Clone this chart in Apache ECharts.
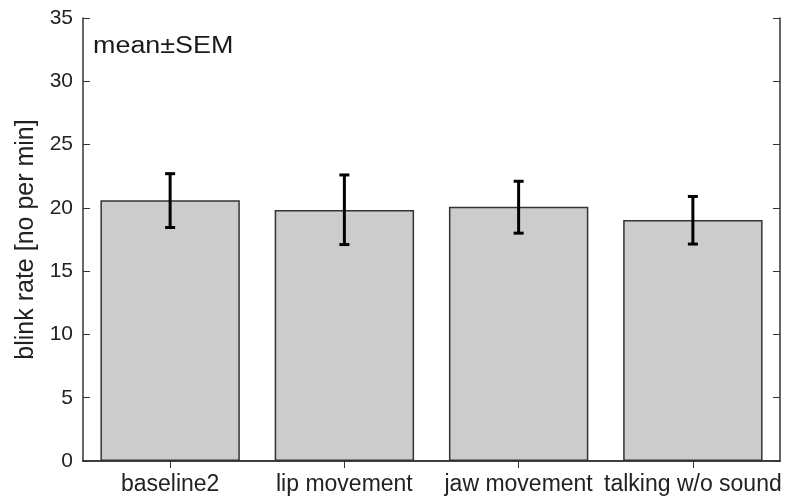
<!DOCTYPE html>
<html><head><meta charset="utf-8">
<script src="https://cdn.jsdelivr.net/npm/echarts@6/dist/echarts.min.js"></script>
<style>html,body{margin:0;padding:0;background:#fff}#c{width:786px;height:497px}</style>
</head><body><div id="c"></div>
<script>
const categories = ['baseline2', 'lip movement', 'jaw movement', 'talking w/o sound'];
const means = [20.6, 19.83, 20.09, 19.04];
const errLow = [18.45, 17.1, 18.0, 17.14];
const errHigh = [22.7, 22.6, 22.1, 20.9];
const yTicks = [0, 5, 10, 15, 20, 25, 30, 35];

const chart = echarts.init(document.getElementById('c'));
const font = 'Liberation Sans, Arial, sans-serif';
const axisCol = '#333';
chart.setOption({
  animation: false,
  backgroundColor: '#fff',
  grid: { left: 83, right: 6, top: 18, bottom: 36 },
  graphic: [{ type: 'text', x: 93, y: 46.5, scaleX: 1.17, originX: 0,
    style: { text: 'mean±SEM', fontSize: 23, fontFamily: font, fill: '#1a1a1a', verticalAlign: 'middle', align: 'left' } }],
  xAxis: [{
    type: 'category', data: categories, position: 'bottom',
    axisLine: { lineStyle: { color: axisCol, width: 1.5 } },
    axisTick: { show: true, inside: true, alignWithLabel: true, length: 7, lineStyle: { color: axisCol } },
    axisLabel: { fontSize: 23, fontFamily: font, color: '#222', margin: 12, interval: 0 }
  }, {
    type: 'category', data: categories, position: 'top',
    axisLine: { show: true, lineStyle: { color: axisCol, width: 1.5 } },
    axisTick: { show: true, inside: true, alignWithLabel: true, length: 7, lineStyle: { color: axisCol } },
    axisLabel: { show: false }
  }],
  yAxis: [{
    type: 'value', min: yTicks[0], max: yTicks[yTicks.length - 1], interval: 5, position: 'left',
    name: 'blink rate [no per min]', nameLocation: 'middle', nameGap: 43,
    nameTextStyle: { fontSize: 25, fontFamily: font, color: '#222' },
    axisLine: { show: true, lineStyle: { color: axisCol, width: 1.5 } },
    axisTick: { show: true, inside: true, length: 7, lineStyle: { color: axisCol } },
    axisLabel: { fontSize: 21, fontFamily: font, color: '#222', margin: 10 },
    splitLine: { show: false }
  }, {
    type: 'value', min: yTicks[0], max: yTicks[yTicks.length - 1], interval: 5, position: 'right',
    axisLine: { show: true, lineStyle: { color: axisCol, width: 1.5 } },
    axisTick: { show: true, inside: true, length: 7, lineStyle: { color: axisCol } },
    axisLabel: { show: false },
    splitLine: { show: false }
  }],
  series: [{
    type: 'bar', data: means, barWidth: '80%',
    itemStyle: { color: '#cccccc', borderColor: '#333', borderWidth: 1.5 },
    z: 2
  }, {
    type: 'custom', z: 5,
    data: categories.map((c, i) => [i, errLow[i], errHigh[i]]),
    renderItem: function (params, api) {
      const lo = api.coord([api.value(0), api.value(1)]);
      const hi = api.coord([api.value(0), api.value(2)]);
      const x = lo[0], hw = 5;
      const st = { stroke: '#000', lineWidth: 3 };
      return { type: 'group', children: [
        { type: 'line', shape: { x1: x, y1: lo[1], x2: x, y2: hi[1] }, style: st },
        { type: 'line', shape: { x1: x - hw, y1: lo[1], x2: x + hw, y2: lo[1] }, style: st },
        { type: 'line', shape: { x1: x - hw, y1: hi[1], x2: x + hw, y2: hi[1] }, style: st }
      ] };
    }
  }]
});
</script></body></html>
